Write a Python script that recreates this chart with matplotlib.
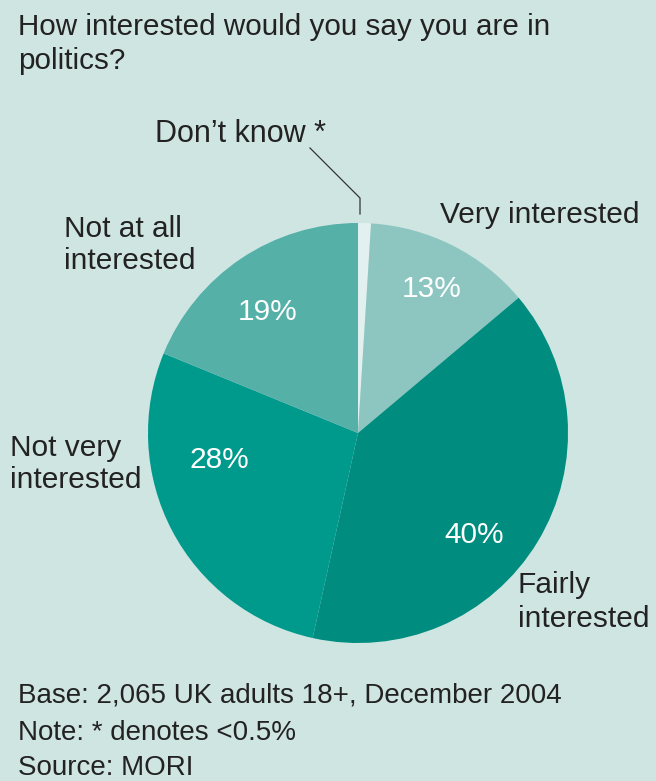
import matplotlib.pyplot as plt
import numpy as np

plt.rcParams['font.family'] = ['Liberation Sans Narrow', 'Liberation Sans', 'DejaVu Sans']

categories = ["Don't know", "Very interested", "Fairly interested", "Not very interested", "Not at all interested"]
values = [1, 13, 40, 28, 19]
pct_labels = ["", "13%", "40%", "28%", "19%"]
colors = ['#e2f1ef', '#8dc6c1', '#008c7e', '#009a8d', '#55b0a8']
bg = '#cfe5e2'
txt = '#222222'

W, H = 656, 781
fig = plt.figure(figsize=(W/100, H/100), dpi=100, facecolor=bg)

# pie center / radius in pixels
cx, cy, R = 358, 433, 210
ax = fig.add_axes([(cx-R)/W, 1-(cy+R)/H, 2*R/W, 2*R/H])
ax.set_facecolor(bg)
wedges, _ = ax.pie(values, colors=colors, startangle=90, counterclock=False,
                   radius=1, wedgeprops=dict(linewidth=0))
ax.set_xlim(-1, 1)
ax.set_ylim(-1, 1)
ax.set_aspect('equal')
ax.axis('off')

def px(x, y):
    return (x-cx)/R, (cy-y)/R

# percentage labels inside slices (pixel spots as in the original)
pct_pos = [None, (432, 289), (474, 535), (219, 460), (268, 312)]
for lab, p in zip(pct_labels, pct_pos):
    if not lab:
        continue
    ax.text(*px(*p), lab, color='white', fontsize=21.5, ha='center', va='center')

# leader line for Don't know
lx, ly = zip(px(310, 148), px(360, 198), px(360, 214))
ax.plot(lx, ly, color='#333333', lw=0.9, clip_on=False)

def ftext(x, y, s, size=21.5, ls=1.2):
    fig.text(x/W, 1-y/H, s, color=txt, fontsize=size, va='center', ha='left',
             linespacing=ls)

ftext(18, 44, "How interested would you say you are in\npolitics?", 21.3, 1.25)
ftext(155, 134, "Don\u2019t know *", 22)
ftext(440, 215, "Very interested")
ftext(64, 245, "Not at all\ninterested", ls=1.16)
ftext(10, 464, "Not very\ninterested", ls=1.2)
ftext(518, 602, "Fairly\ninterested", ls=1.24)
ftext(18, 696, "Base: 2,065 UK adults 18+, December 2004", 20)
ftext(18, 733, "Note: * denotes <0.5%", 20)
ftext(18, 768, "Source: MORI", 20)

fig.savefig('out.png', dpi=100, facecolor=bg)
